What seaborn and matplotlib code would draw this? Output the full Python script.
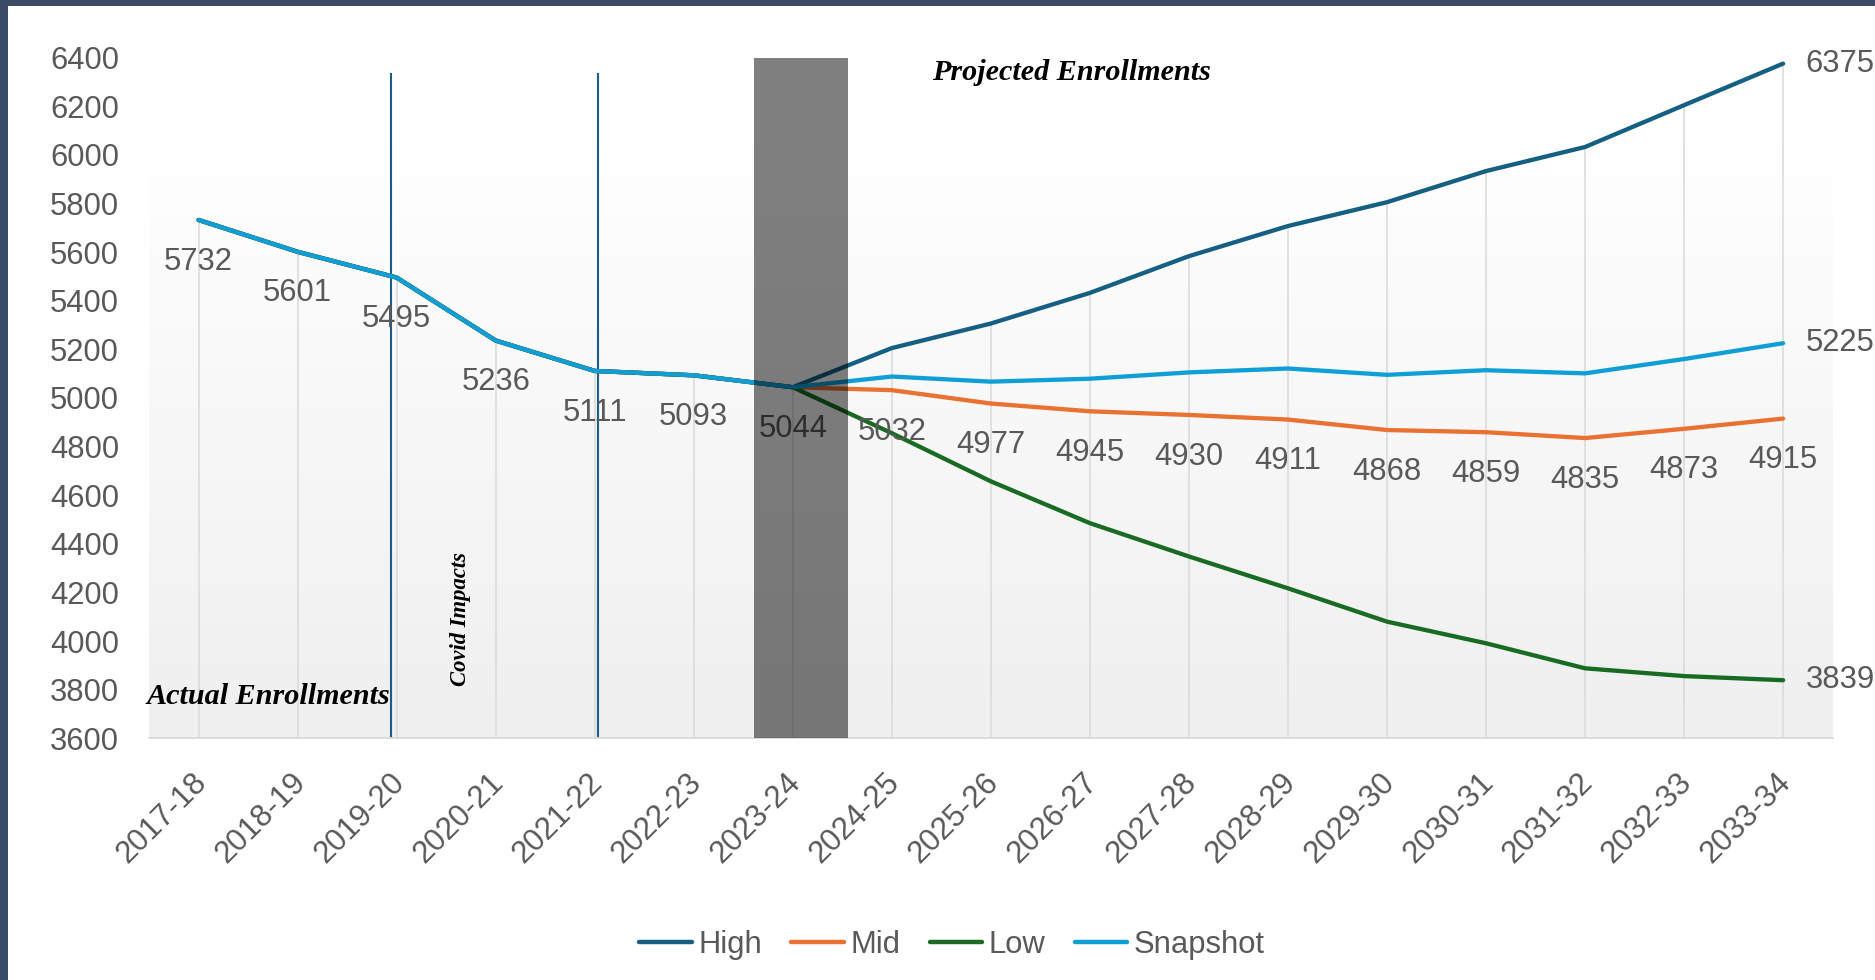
import numpy as np
import pandas as pd
import matplotlib
matplotlib.use("Agg")
import matplotlib.pyplot as plt
import matplotlib.transforms as mtransforms
from matplotlib.lines import Line2D
from matplotlib.patches import Rectangle
from matplotlib.colors import LinearSegmentedColormap
import seaborn as sns

# School years on the category axis
years = ["2017-18", "2018-19", "2019-20", "2020-21", "2021-22", "2022-23",
         "2023-24", "2024-25", "2025-26", "2026-27", "2027-28", "2028-29",
         "2029-30", "2030-31", "2031-32", "2032-33", "2033-34"]

# Actual enrollments (shared start of every scenario)
actual = [5732, 5601, 5495, 5236, 5111, 5093, 5044]

# Projected enrollments, 2024-25 through 2033-34
high_proj = [5205, 5306, 5432, 5583, 5707, 5805, 5933, 6032, 6204, 6375]
mid_proj = [5032, 4977, 4945, 4930, 4911, 4868, 4859, 4835, 4873, 4915]
low_proj = [4855, 4657, 4485, 4348, 4217, 4080, 3991, 3888, 3856, 3839]
snapshot_proj = [5088, 5067, 5079, 5105, 5121, 5095, 5114, 5101, 5160, 5225]

series_names = ["High", "Mid", "Low", "Snapshot"]
palette = {"High": "#156082", "Mid": "#E97132", "Low": "#196B24", "Snapshot": "#0F9ED5"}

series = {
    "High": actual + high_proj,
    "Mid": actual + mid_proj,
    "Low": actual + low_proj,
    "Snapshot": actual + snapshot_proj,
}

rows = [{"idx": i, "value": v, "series": name}
        for name in series_names for i, v in enumerate(series[name])]
df = pd.DataFrame(rows)

sns.set_theme(style="white")
plt.rcParams["font.family"] = ["Liberation Sans", "DejaVu Sans"]

TXT = "#595959"
FS = 22.3

fig = plt.figure(figsize=(18.75, 9.8), dpi=100)
fig.patch.set_facecolor("white")
ax = fig.add_axes([0.0795, 0.2466, 0.8979, 0.6947])
ax.set_facecolor("white")

n = len(years)
idx = np.arange(n)

# soft plot-area gradient
cmap = LinearSegmentedColormap.from_list("plotfill", ["#ffffff", "#efefef"])
grad = np.linspace(0, 1, 256).reshape(-1, 1)
ax.imshow(grad, extent=(-0.5, 16.5, 3600, 6043), aspect="auto", cmap=cmap,
          origin="upper", zorder=0, interpolation="bilinear")

# drop lines from the highest point of each year
tops = df.groupby("idx")["value"].max().reindex(idx).values
ax.vlines(idx, 3600, tops, color="#d9d9d9", lw=1.1, zorder=1)

# Covid period markers
ax.vlines([1.944, 4.03], 3600, [6338, 6335], color="#1b5e85", lw=1.5, zorder=2.5)

sns.lineplot(data=df, x="idx", y="value", hue="series", hue_order=series_names,
             palette=palette, lw=3.1, legend=False, ax=ax, zorder=3,
             solid_capstyle="round", solid_joinstyle="round")

# value labels below the Mid scenario
for i, v in enumerate(series["Mid"]):
    ax.annotate(str(v), (i, v), xytext=(0, -30), textcoords="offset points",
                ha="center", va="center", fontsize=FS, color=TXT, zorder=4)

# end-of-line labels
for name in ["High", "Snapshot", "Low"]:
    v = series[name][-1]
    ax.annotate(str(v), (n - 1, v), xytext=(16, 0), textcoords="offset points",
                ha="left", va="center", fontsize=FS, color=TXT, zorder=4,
                annotation_clip=False)

# current year band
ax.axvspan(5.606, 6.558, color="black", alpha=0.5, lw=0, zorder=5)

serif = dict(family=["Liberation Serif", "DejaVu Serif"], weight="bold",
             style="italic", color="black", zorder=6)
ax.text(7.41, 6340, "Projected Enrollments", fontsize=21.7, ha="left", va="center", **serif)
ax.text(-0.53, 3770, "Actual Enrollments", fontsize=21.7, ha="left", va="center",
        clip_on=False, **serif)
ax.text(2.64, 4089, "Covid Impacts", fontsize=16.3, rotation=90, ha="center",
        va="center", **serif)

ax.set_xlim(-0.5, 16.5)
ax.set_ylim(3600, 6400)
ax.set_yticks(range(3600, 6401, 200))
ax.set_xticks(idx)
ax.set_xticklabels(years, rotation=45, ha="right", rotation_mode="anchor")
ax.tick_params(axis="both", length=0, labelsize=FS, labelcolor=TXT)
ax.tick_params(axis="y", pad=21.6)
ax.tick_params(axis="x", pad=21)
shift = mtransforms.ScaledTranslation(-7 / 100, 0, fig.dpi_scale_trans)
for lbl in ax.get_xticklabels():
    lbl.set_transform(lbl.get_transform() + shift)
ax.set_xlabel("")
ax.set_ylabel("")

for side in ["top", "right", "left"]:
    ax.spines[side].set_visible(False)
ax.spines["bottom"].set_color("#d9d9d9")
ax.spines["bottom"].set_linewidth(1.3)

handles = [Line2D([0], [0], color=palette[s], lw=3.2, solid_capstyle="round")
           for s in series_names]
fig.legend(handles, series_names, loc="center", bbox_to_anchor=(0.5077, 1 - 945 / 980),
           ncol=4, frameon=False, fontsize=FS, handlelength=1.7, handletextpad=0.2,
           columnspacing=0.95, labelcolor=TXT)

# frame strips along the top and left edges
frame_col = "#3b4a65"
fig.patches.append(Rectangle((0, 0), 8 / 1875, 1, transform=fig.transFigure,
                             facecolor=frame_col, edgecolor="none", zorder=10))
fig.patches.append(Rectangle((0, 1 - 6 / 980), 1, 6 / 980, transform=fig.transFigure,
                             facecolor=frame_col, edgecolor="none", zorder=10))

fig.savefig("out.png", dpi=100)
